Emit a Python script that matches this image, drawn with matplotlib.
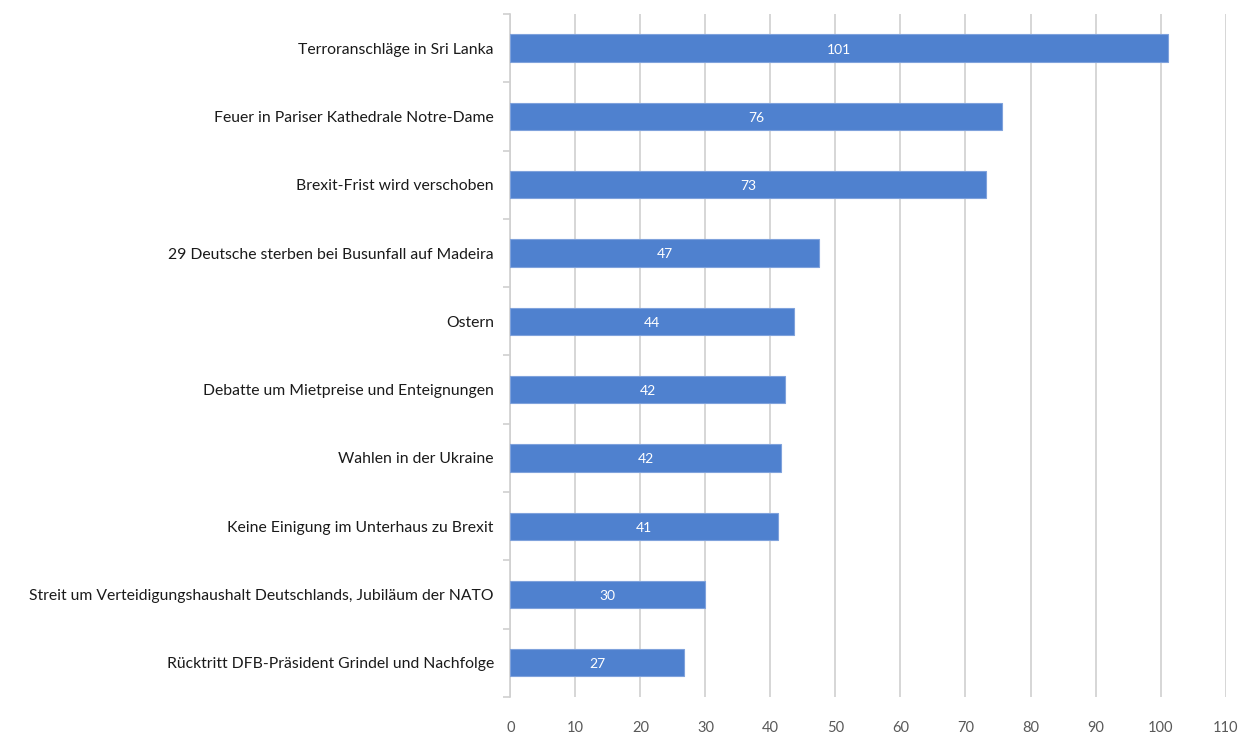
import numpy as np
import matplotlib.pyplot as plt
from matplotlib.ticker import FixedLocator

plt.rcParams['font.family'] = ['Lato', 'DejaVu Sans']

# topics, top to bottom
topics = [
    "Terroranschläge in Sri Lanka",
    "Feuer in Pariser Kathedrale Notre-Dame",
    "Brexit-Frist wird verschoben",
    "29 Deutsche sterben bei Busunfall auf Madeira",
    "Ostern",
    "Debatte um Mietpreise und Enteignungen",
    "Wahlen in der Ukraine",
    "Keine Einigung im Unterhaus zu Brexit",
    "Streit um Verteidigungshaushalt Deutschlands, Jubiläum der NATO",
    "Rücktritt DFB-Präsident Grindel und Nachfolge",
]
share = [101.2, 75.6, 73.1, 47.4, 43.6, 42.2, 41.6, 41.2, 29.9, 26.7]
xticks = list(range(0, 111, 10))

bar_color = "#4f81cf"
grid_color = "#d0d0d0"

fig = plt.figure(figsize=(12.49, 7.53), dpi=100)
ax = fig.add_axes([0.4087, 0.0744, 0.5725, 0.907])

y = np.arange(len(topics))
ax.barh(y, share, height=0.4, color=bar_color, edgecolor="#7fa2dc",
        linewidth=0.8, zorder=3)

for yi, v in zip(y, share):
    ax.text(v / 2, yi + 0.02, "%.0f" % v, ha="center", va="center",
            color="white", fontsize=10, zorder=4)

ax.set_xlim(0, 110)
ax.set_ylim(len(topics) - 0.5, -0.5)
ax.set_xticks(xticks)
ax.set_xticklabels([str(t) for t in xticks])
ax.set_yticks(y)
ax.set_yticklabels(topics)

# separator ticks between categories on the left axis
ax.yaxis.set_minor_locator(FixedLocator(np.arange(-0.5, len(topics), 1.0)))
ax.tick_params(axis="y", which="major", length=0, pad=12, labelsize=11.3,
               labelcolor="#1a1a1a")
ax.tick_params(axis="y", which="minor", length=5, width=1.2, color=grid_color)
ax.tick_params(axis="x", length=0, pad=17, labelsize=10.5,
               labelcolor="#595959")

ax.grid(axis="x", color=grid_color, linewidth=1.2, zorder=0)
for side in ["top", "right", "bottom"]:
    ax.spines[side].set_visible(False)
ax.spines["left"].set_color(grid_color)
ax.spines["left"].set_linewidth(1.2)

fig.savefig("out.png", dpi=100, facecolor="white")
